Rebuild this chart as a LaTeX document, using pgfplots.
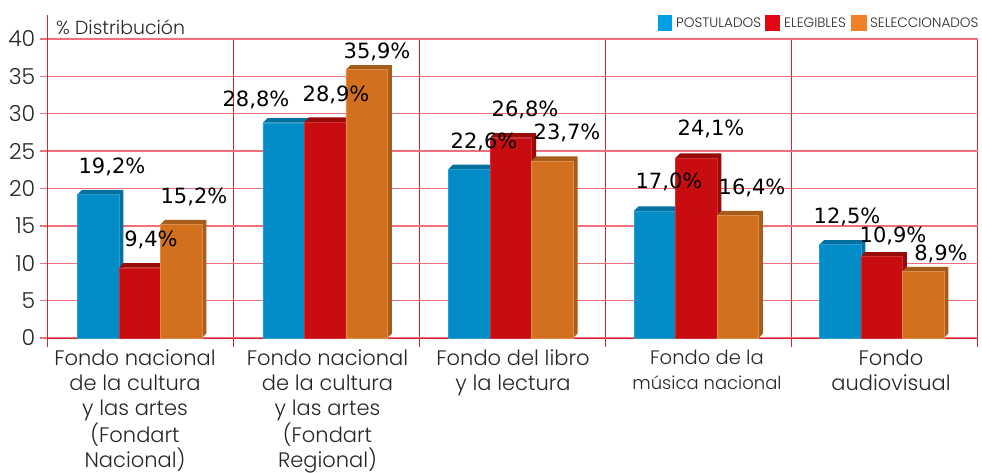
\documentclass[border=0pt]{standalone}
\usepackage{fontspec}
\usepackage{pgfplots}
\pgfplotsset{compat=1.18}
\setmainfont{Poppins Light}
\newfontfamily\lab{DejaVu Sans}
\definecolor{cb}{HTML}{028CC8}\definecolor{cbd}{HTML}{06709F}\definecolor{cbl}{HTML}{2A9CD0}
\definecolor{cr}{HTML}{C80C10}\definecolor{crd}{HTML}{980C08}\definecolor{crl}{HTML}{D03034}
\definecolor{co}{HTML}{D2701E}\definecolor{cod}{HTML}{A85C1A}\definecolor{col}{HTML}{DE8E4C}
\definecolor{gridp}{HTML}{F2707C}\definecolor{gridr}{HTML}{E0202E}
\newcommand\depth[4]{% group centre, index (-1,0,1), value, colour
  \pgfmathsetmacro\xa{#1+(#2-0.5)*0.2231}%
  \pgfmathsetmacro\xb{#1+(#2+0.5)*0.2231}%
  \pgfmathsetmacro\xc{\xa+0.0240}%
  \pgfmathsetmacro\xd{\xb+0.0240}%
  \pgfmathsetmacro\yt{#3+0.6}%
  \edef\temp{\noexpand\addplot[fill=#4,draw=none,forget plot] coordinates {(\xa,#3) (\xc,\yt) (\xd,\yt) (\xd,0.6) (\xb,0) (\xb,#3)} -- cycle;}%
  \temp}
\newcommand\lbl[3]{\node[font={\lab\fontsize{21}{24}\selectfont},inner sep=0pt,anchor=center,text=black] at (axis cs:{(#1-47.5)/186-0.5},{(338-#2)/7.475}) {#3};}
\begin{document}
\begin{tikzpicture}[x=1pt,y=1pt]
\path[use as bounding box] (0,0) rectangle (982,473);
\begin{axis}[
  at={(47.5pt,135pt)},anchor=south west,
  scale only axis,width=930pt,height=299pt,
  xmin=-0.5,xmax=4.5,ymin=0,ymax=40,
  clip=false,
  axis line style={gridr,line width=0.9pt},
  axis x line*=bottom, axis y line*=left,
  ytick={0,5,...,40},
  ymajorgrids,
  major grid style={gridp,line width=1.4pt},
  minor grid style={gridr,line width=0.9pt},
  xtick={-0.0296,1.0054,2.0027,3.0457,4.0349},
  xticklabels={Fondo nacional\\de la cultura\\y las artes\\(Fondart\\Nacional),
    Fondo nacional\\de la cultura\\y las artes\\(Fondart\\Regional),
    Fondo del libro\\y la lectura,
    {\fontsize{19.5}{25}\selectfont Fondo de la}\\{\fontsize{18}{25}\selectfont música nacional},
    Fondo\\audiovisual},
  minor xtick={0.5,1.5,2.5,3.5,4.5},
  xminorgrids,
  major x tick style={draw=none},
  minor x tick style={gridr,line width=0.9pt},
  minor tick length=9pt,
  major tick length=7pt,
  y tick style={gridp,line width=1.4pt},
  tick align=outside,
  x tick label style={align=center,font=\fontsize{21}{25}\selectfont,text=black!85,anchor=north,yshift=-5pt,inner sep=0pt},
  y tick label style={font=\fontsize{22}{24}\selectfont,text=black!85,inner sep=0pt,xshift=-5pt},
  /pgf/number format/assume math mode=true,
  axis on top=false,
]
% depth faces
\depth{-0.004}{-1}{19.2}{cbd}\depth{-0.004}{0}{9.4}{crd}\depth{-0.004}{1}{15.2}{cod}
\depth{0.993}{-1}{28.8}{cbd}\depth{0.993}{0}{28.9}{crd}\depth{0.993}{1}{35.9}{cod}
\depth{1.991}{-1}{22.6}{cbd}\depth{1.991}{0}{26.8}{crd}\depth{1.991}{1}{23.7}{cod}
\depth{2.988}{-1}{17.0}{cbd}\depth{2.988}{0}{24.1}{crd}\depth{2.988}{1}{16.4}{cod}
\depth{3.985}{-1}{12.5}{cbd}\depth{3.985}{0}{10.9}{crd}\depth{3.985}{1}{8.9}{cod}
% front faces
\addplot[ybar,bar width=41.5pt,bar shift=-41.5pt,fill=cb,draw=cbl,line width=0.3pt] coordinates {(-0.004,19.2) (0.993,28.8) (1.991,22.6) (2.988,17.0) (3.985,12.5)};
\addplot[ybar,bar width=41.5pt,bar shift=0pt,fill=cr,draw=crl,line width=0.3pt] coordinates {(-0.004,9.4) (0.993,28.9) (1.991,26.8) (2.988,24.1) (3.985,10.9)};
\addplot[ybar,bar width=41.5pt,bar shift=41.5pt,fill=co,draw=col,line width=0.3pt] coordinates {(-0.004,15.2) (0.993,35.9) (1.991,23.7) (2.988,16.4) (3.985,8.9)};
\draw[gridr,line width=0.9pt] (axis cs:-0.5,40) -- (axis cs:-0.5,43.2);
\draw[gridr,line width=0.9pt] (axis cs:-0.5,0) -- (axis cs:-0.5,-1.2);
\lbl{112}{167}{19,2\%}\lbl{151}{240}{9,4\%}\lbl{194}{197}{15,2\%}
\lbl{256}{100}{28,8\%}\lbl{336}{95}{28,9\%}\lbl{377}{52}{35,9\%}
\lbl{484}{142}{22,6\%}\lbl{525}{110}{26,8\%}\lbl{567}{133}{23,7\%}
\lbl{669}{182}{17,0\%}\lbl{711}{129}{24,1\%}\lbl{752}{188}{16,4\%}
\lbl{847}{217}{12,5\%}\lbl{893}{236}{10,9\%}\lbl{941}{254}{8,9\%}
\end{axis}
\node[anchor=west,inner sep=0pt,font=\fontsize{18.9}{20}\selectfont,text=black!85] at (56,446) {\% Distribución};
\fill[fill={rgb,255:red,0;green,160;blue,227}] (658,442) rectangle (672,458);
\node[anchor=west,inner sep=0pt,font=\fontsize{13.6}{15}\selectfont,text=black!85] at (676,450) {POSTULADOS};
\fill[fill={rgb,255:red,227;green,6;blue,19}] (765,442) rectangle (780,458);
\node[anchor=west,inner sep=0pt,font=\fontsize{13.6}{15}\selectfont,text=black!85] at (784,450) {ELEGIBLES};
\fill[fill={rgb,255:red,241;green,128;blue,38}] (851,442) rectangle (867,458);
\node[anchor=west,inner sep=0pt,font=\fontsize{13.6}{15}\selectfont,text=black!85] at (870,450) {SELECCIONADOS};
\end{tikzpicture}
\end{document}
